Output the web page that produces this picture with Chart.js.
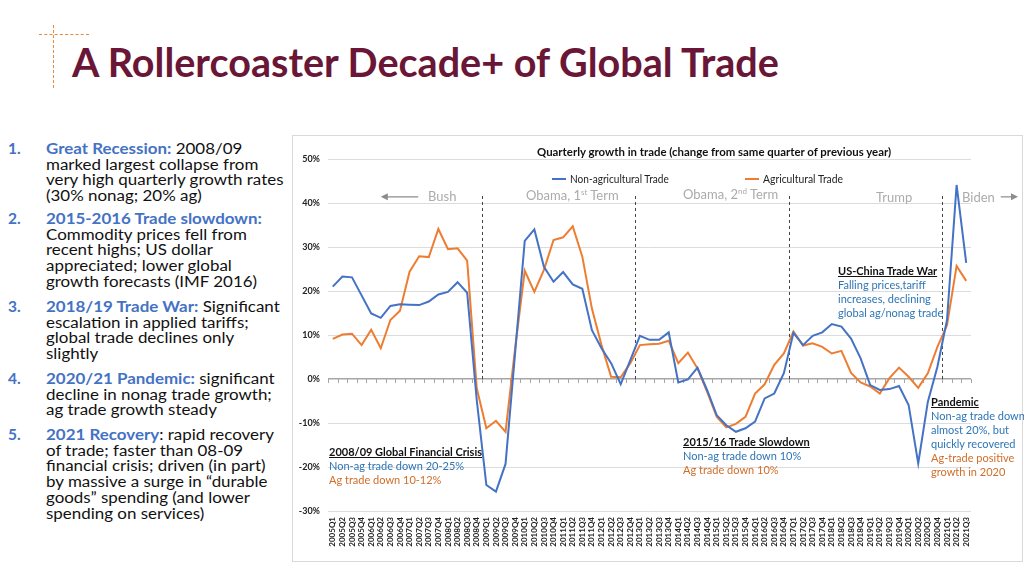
<!DOCTYPE html>
<html>
<head>
<meta charset="utf-8">
<script src="https://cdn.jsdelivr.net/npm/chart.js@4.4.1/dist/chart.umd.min.js"></script>
<style>
  html, body { margin: 0; padding: 0; background: #fff; }
  body { width: 1024px; height: 576px; position: relative; overflow: hidden; font-family: Lato, "Open Sans", sans-serif; }
  .abs { position: absolute; white-space: nowrap; transform-origin: 0 50%; }
  #title { left: 72px; top: 41px; font-size: 41px; line-height: 41px; font-weight: bold; color: #6a1636; }
  .deco-h { position: absolute; left: 39px; top: 34px; width: 50px; border-top: 1.5px dashed #ec8a3c; }
  .deco-v { position: absolute; left: 53px; top: 25px; height: 63px; border-left: 1.5px dashed #ec8a3c; }
  .num { position: absolute; left: 8px; font-size: 15.5px; line-height: 15.7px; font-weight: bold; color: #4472c4; }
  .txt { position: absolute; left: 46px; font-size: 15.5px; line-height: 15.7px; color: #111; white-space: nowrap; transform-origin: 0 0; }
  .hd { color: #4472c4; font-weight: bold; }
  #box { position: absolute; left: 292px; top: 135px; width: 731px; height: 427px; border: 1px solid #d9d9d9; box-sizing: border-box; }
  #chart { position: absolute; left: 292px; top: 135px; }
  .ctitle { font-size: 11.5px; font-weight: bold; color: #111; }
  .leg { font-size: 11px; color: #222; }
  .legline { position: absolute; width: 14px; height: 2px; }
  .era { font-size: 13px; color: #ababab; }
  .era sup { font-size: 8px; vertical-align: 5px; line-height: 0; }
  .ann { font-size: 11px; line-height: 14px; }
  .ann .h { font-weight: bold; text-decoration: underline; color: #111; }
  .ann .b { color: #2e75b6; }
  .ann .o { color: #d06d2a; }
</style>
</head>
<body>
<div class="deco-h"></div><div class="deco-v"></div>
<div id="title" class="abs" data-w="707">A Rollercoaster Decade+ of Global Trade</div>

<div class="num" style="top:141px">1.</div>
<div class="txt" style="top:141px"><span class="hd">Great Recession:</span> 2008/09<br>marked largest collapse from<br><span id="ref">very high quarterly growth rates</span><br>(30% nonag; 20% ag)</div>
<div class="num" style="top:211px">2.</div>
<div class="txt" style="top:211px"><span class="hd">2015-2016 Trade slowdown:</span><br>Commodity prices fell from<br>recent highs; US dollar<br>appreciated; lower global<br>growth forecasts (IMF 2016)</div>
<div class="num" style="top:299px">3.</div>
<div class="txt" style="top:299px"><span class="hd">2018/19 Trade War:</span> Significant<br>escalation in applied tariffs;<br>global trade declines only<br>slightly</div>
<div class="num" style="top:371px">4.</div>
<div class="txt" style="top:371px"><span class="hd">2020/21 Pandemic:</span> significant<br>decline in nonag trade growth;<br>ag trade growth steady</div>
<div class="num" style="top:427px">5.</div>
<div class="txt" style="top:427px"><span class="hd">2021 Recovery</span>: rapid recovery<br>of trade; faster than 08-09<br>financial crisis; driven (in part)<br>by massive a surge in “durable<br>goods” spending (and lower<br>spending on services)</div>

<div id="box"></div>
<canvas id="chart" width="731" height="427"></canvas>

<div class="abs ctitle" style="left:537px;top:145px" data-w="354">Quarterly growth in trade (change from same quarter of previous year)</div>
<div class="legline" style="left:552px;top:178px;background:#4472c4"></div>
<div class="abs leg" style="left:570px;top:172px" data-w="99">Non-agricultural Trade</div>
<div class="legline" style="left:745px;top:178px;background:#ed7d31"></div>
<div class="abs leg" style="left:763px;top:172px" data-w="80">Agricultural Trade</div>

<div class="abs era" style="left:428px;top:188px">Bush</div>
<div class="abs era" style="left:526px;top:187px">Obama, 1<sup>st</sup> Term</div>
<div class="abs era" style="left:683px;top:186px">Obama, 2<sup>nd</sup> Term</div>
<div class="abs era" style="left:876px;top:189px">Trump</div>
<div class="abs era" style="left:962px;top:189px">Biden</div>

<div class="abs ann" style="left:329px;top:445px"><span class="h">2008/09 Global Financial Crisis</span><br><span class="b">Non-ag trade down 20-25%</span><br><span class="o">Ag trade down 10-12%</span></div>
<div class="abs ann" style="left:683px;top:435px"><span class="h">2015/16 Trade Slowdown</span><br><span class="b">Non-ag trade down 10%</span><br><span class="o">Ag trade down 10%</span></div>
<div class="abs ann" style="left:838px;top:264px"><span class="h">US-China Trade War</span><br><span class="b">Falling prices,tariff</span><br><span class="b">increases, declining</span><br><span class="b">global ag/nonag trade</span></div>
<div class="abs ann" style="left:931px;top:395px"><span class="h">Pandemic</span><br><span class="b">Non-ag trade down</span><br><span class="b">almost 20%, but</span><br><span class="b">quickly recovered</span><br><span class="o">Ag-trade positive</span><br><span class="o">growth in 2020</span></div>

<script>
// Kuartal 2005Q1 - 2021Q3
var quarters = [
  '2005Q1','2005Q2','2005Q3','2005Q4','2006Q1','2006Q2','2006Q3','2006Q4',
  '2007Q1','2007Q2','2007Q3','2007Q4','2008Q1','2008Q2','2008Q3','2008Q4',
  '2009Q1','2009Q2','2009Q3','2009Q4','2010Q1','2010Q2','2010Q3','2010Q4',
  '2011Q1','2011Q2','2011Q3','2011Q4','2012Q1','2012Q2','2012Q3','2012Q4',
  '2013Q1','2013Q2','2013Q3','2013Q4','2014Q1','2014Q2','2014Q3','2014Q4',
  '2015Q1','2015Q2','2015Q3','2015Q4','2016Q1','2016Q2','2016Q3','2016Q4',
  '2017Q1','2017Q2','2017Q3','2017Q4','2018Q1','2018Q2','2018Q3','2018Q4',
  '2019Q1','2019Q2','2019Q3','2019Q4','2020Q1','2020Q2','2020Q3','2020Q4',
  '2021Q1','2021Q2','2021Q3'
];

// Non-agricultural trade, % change y/y
var nonAgTrade = [
  21.0, 23.3, 23.1, 19.0,  14.9, 13.9, 16.6, 17.0,
  16.9, 16.8, 17.6, 19.2,  19.8, 22.0, 19.6, -4.8,
  -24.1, -25.6, -19.3, 6.0,  31.4, 34.0, 25.5, 22.1,
  24.3, 21.5, 20.5, 11.1,  7.0, 3.6, -1.2, 4.3,
  9.8, 8.9, 8.9, 10.6,  -0.8, -0.1, 2.6, -2.5,
  -8.2, -10.5, -12.0, -11.2,  -9.7, -4.4, -3.3, 1.3,
  10.5, 7.7, 9.8, 10.6,  12.5, 11.9, 9.2, 4.7,
  -1.4, -2.5, -2.3, -1.6,  -5.9, -19.2, -5.2, 2.8,
  13.4, 44.1, 26.4
];

// Agricultural trade, % change y/y
var agTrade = [
  9.1, 10.1, 10.3, 7.7,  11.2, 7.0, 13.4, 15.5,
  24.4, 27.9, 27.7, 34.1,  29.5, 29.7, 26.9, -2.1,
  -11.2, -9.5, -12.0, 7.0,  24.6, 19.8, 24.8, 31.6,
  32.2, 34.7, 27.8, 16.0,  7.7, 0.5, 0.4, 3.6,
  7.7, 7.9, 8.0, 8.7,  3.6, 6.0, 2.4, -2.9,
  -8.6, -11.0, -10.2, -8.6,  -3.3, -1.2, 3.2, 5.8,
  10.8, 7.6, 8.1, 7.3,  5.8, 6.4, 1.4, -0.8,
  -1.7, -3.3, 0.2, 2.6,  0.5, -2.0, 1.3, 7.3,
  12.2, 25.7, 22.3
];

// garis putus-putus pergantian presiden (setelah kuartal ini)
var eraBreaks = ['2008Q4', '2012Q4', '2016Q4', '2020Q4'];

var fontFam = 'Lato, "Open Sans", sans-serif';

// plugin: garis era, tick di garis nol, panah
var eraPlugin = {
  id: 'eraPlugin',
  beforeDatasetsDraw: function(chart) {
    var ctx = chart.ctx, x = chart.scales.x, y = chart.scales.y;
    var y0 = y.getPixelForValue(0);
    var yTop = y.getPixelForValue(41.6);
    ctx.save();
    // tick kecil di garis 0%
    ctx.strokeStyle = '#a6a6a6';
    ctx.lineWidth = 1;
    for (var i = 0; i <= quarters.length; i++) {
      var px = Math.round(x.getPixelForValue(i - 0.5)) + 0.5;
      ctx.beginPath();
      ctx.moveTo(px, y0);
      ctx.lineTo(px, y0 + 4);
      ctx.stroke();
    }
    // garis era
    ctx.strokeStyle = '#444';
    ctx.setLineDash([3, 3]);
    eraBreaks.forEach(function(q) {
      var idx = quarters.indexOf(q);
      var px = Math.round(x.getPixelForValue(idx + 0.5)) + 0.5;
      ctx.beginPath();
      ctx.moveTo(px, yTop);
      ctx.lineTo(px, y0);
      ctx.stroke();
    });
    ctx.setLineDash([]);
    // panah Bush & Biden
    var ya = y.getPixelForValue(41.4);
    drawArrow(ctx, x.getPixelForValue(8.9), ya, x.getPixelForValue(5.0), ya);
    drawArrow(ctx, x.getPixelForValue(69.6), ya, x.getPixelForValue(71.4), ya);
    ctx.restore();
  }
};

function drawArrow(ctx, x1, y1, x2, y2) {
  var dir = x2 > x1 ? 1 : -1;
  ctx.strokeStyle = '#8c8c8c';
  ctx.fillStyle = '#8c8c8c';
  ctx.lineWidth = 1.2;
  ctx.beginPath();
  ctx.moveTo(x1, y1);
  ctx.lineTo(x2 - dir * 6, y2);
  ctx.stroke();
  ctx.beginPath();
  ctx.moveTo(x2, y2);
  ctx.lineTo(x2 - dir * 7, y2 - 3.5);
  ctx.lineTo(x2 - dir * 7, y2 + 3.5);
  ctx.closePath();
  ctx.fill();
}

var ctx = document.getElementById('chart').getContext('2d');
var myChart = new Chart(ctx, {
  type: 'line',
  data: {
    labels: quarters,
    datasets: [{
      label: 'Non-agricultural Trade',
      data: nonAgTrade,
      borderColor: '#4472c4',
      borderWidth: 2,
      pointRadius: 0,
      tension: 0,
      fill: false
    }, {
      label: 'Agricultural Trade',
      data: agTrade,
      borderColor: '#ed7d31',
      borderWidth: 2,
      pointRadius: 0,
      tension: 0,
      fill: false
    }]
  },
  options: {
    responsive: false,
    animation: false,
    layout: { padding: { top: 24, right: 52, left: 0, bottom: 0 } },
    plugins: {
      legend: { display: false },
      title: { display: false },
      tooltip: { enabled: false }
    },
    scales: {
      x: {
        offset: true,
        grid: { display: false, drawTicks: false },
        border: { display: false },
        ticks: {
          autoSkip: false,
          minRotation: 90,
          maxRotation: 90,
          padding: 6,
          color: '#222',
          font: { family: fontFam, size: 8, weight: 'bold' }
        },
        afterFit: function(s) { s.height = 51; }
      },
      y: {
        min: -30,
        max: 50,
        border: { display: false },
        grid: {
          drawTicks: false,
          color: function(c) { return c.tick && c.tick.value === 0 ? '#a6a6a6' : '#dcdcdc'; },
          lineWidth: function(c) { return c.tick && c.tick.value === 0 ? 1.5 : 1; }
        },
        ticks: {
          stepSize: 10,
          padding: 8,
          color: '#222',
          font: { family: fontFam, size: 9, weight: 'bold' },
          callback: function(v) { return v + '%'; }
        },
        afterFit: function(s) { s.width = 36; }
      }
    }
  },
  plugins: [eraPlugin]
});

// sesuaikan lebar teks dengan gambar asli
function fitText() {
  document.querySelectorAll('[data-w]').forEach(function(el) {
    el.style.transform = 'none';
    var w = el.offsetWidth;
    el.style.transform = 'scaleX(' + (parseFloat(el.dataset.w) / w) + ')';
  });
  var ref = document.getElementById('ref');
  var s = 237 / ref.offsetWidth;
  document.querySelectorAll('.txt').forEach(function(el) {
    el.style.transform = 'scaleX(' + s + ')';
  });
}
fitText();
if (document.fonts) document.fonts.ready.then(function() { fitText(); myChart.update(); });
</script>
</body>
</html>
